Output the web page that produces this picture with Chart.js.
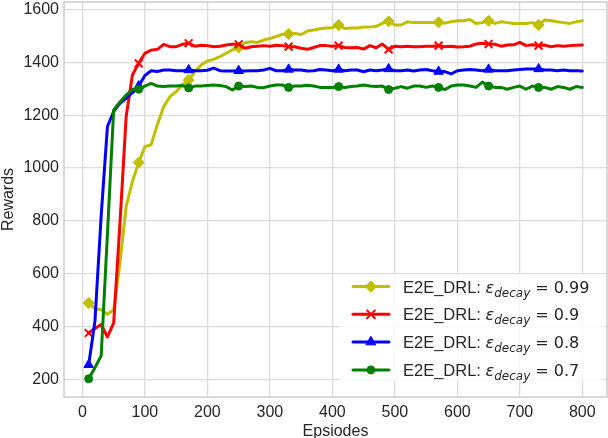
<!DOCTYPE html>
<html>
<head>
<meta charset="utf-8">
<script src="https://cdn.jsdelivr.net/npm/chart.js@4.4.0/dist/chart.umd.min.js"></script>
<style>
  html, body { margin: 0; padding: 0; background: #fff; }
</style>
</head>
<body>
<canvas id="chart" width="608" height="438"></canvas>
<script>
var episodes = [10, 20, 30, 40, 50, 60, 70, 80, 90, 100, 110, 120, 130, 140, 150, 160, 170, 180, 190, 200,
  210, 220, 230, 240, 250, 260, 270, 280, 290, 300, 310, 320, 330, 340, 350, 360, 370, 380, 390, 400,
  410, 420, 430, 440, 450, 460, 470, 480, 490, 500, 510, 520, 530, 540, 550, 560, 570, 580, 590, 600,
  610, 620, 630, 640, 650, 660, 670, 680, 690, 700, 710, 720, 730, 740, 750, 760, 770, 780, 790, 800];

// eps_decay = 0.99
var rewards099 = [490, 468, 464, 447, 464, 640, 855, 949, 1021, 1081, 1088, 1165, 1232, 1270, 1289, 1314, 1333, 1365, 1390, 1405,
  1411, 1421, 1434, 1447, 1456, 1474, 1478, 1475, 1484, 1490, 1497, 1506, 1507, 1509, 1505, 1518, 1522, 1527, 1530, 1531,
  1541, 1528, 1530, 1530, 1533, 1533, 1536, 1547, 1555, 1541, 1541, 1553, 1550, 1550, 1550, 1550, 1551, 1548, 1553, 1557,
  1557, 1562, 1547, 1550, 1557, 1547, 1553, 1550, 1547, 1547, 1547, 1550, 1541, 1560, 1557, 1553, 1550, 1547, 1553, 1557];
// eps_decay = 0.9
var rewards09 = [376, 393, 408, 361, 414, 790, 1195, 1352, 1396, 1434, 1446, 1449, 1468, 1459, 1459, 1468, 1472, 1461, 1464, 1463,
  1459, 1461, 1465, 1468, 1468, 1453, 1459, 1461, 1463, 1461, 1464, 1463, 1459, 1459, 1453, 1449, 1456, 1463, 1463, 1461,
  1463, 1456, 1455, 1456, 1450, 1463, 1455, 1469, 1449, 1461, 1459, 1461, 1459, 1459, 1461, 1461, 1463, 1459, 1461, 1458,
  1459, 1461, 1469, 1472, 1469, 1468, 1461, 1465, 1466, 1475, 1463, 1466, 1463, 1465, 1459, 1463, 1461, 1463, 1464, 1465];
// eps_decay = 0.8
var rewards08 = [256, 420, 820, 1157, 1214, 1245, 1264, 1285, 1310, 1350, 1368, 1365, 1371, 1371, 1368, 1368, 1371, 1368, 1368, 1370,
  1378, 1368, 1367, 1367, 1368, 1367, 1368, 1368, 1371, 1377, 1368, 1368, 1373, 1371, 1371, 1367, 1368, 1373, 1371, 1368,
  1373, 1368, 1371, 1371, 1364, 1371, 1368, 1371, 1375, 1368, 1368, 1371, 1367, 1371, 1373, 1368, 1365, 1365, 1356, 1368,
  1371, 1373, 1371, 1368, 1373, 1368, 1368, 1368, 1371, 1373, 1375, 1375, 1375, 1371, 1371, 1368, 1371, 1368, 1368, 1367];
// eps_decay = 0.7
var rewards07 = [203, 245, 290, 750, 1220, 1250, 1276, 1298, 1298, 1310, 1320, 1310, 1308, 1310, 1310, 1312, 1303, 1310, 1310, 1312,
  1314, 1312, 1308, 1295, 1310, 1308, 1310, 1305, 1304, 1310, 1314, 1314, 1305, 1310, 1310, 1313, 1310, 1305, 1305, 1305,
  1308, 1305, 1308, 1310, 1314, 1310, 1308, 1310, 1297, 1302, 1308, 1302, 1310, 1310, 1305, 1310, 1305, 1297, 1310, 1314,
  1314, 1310, 1305, 1325, 1310, 1305, 1305, 1298, 1305, 1310, 1298, 1310, 1305, 1305, 1298, 1308, 1305, 1298, 1308, 1305];

var xTicks = [0, 100, 200, 300, 400, 500, 600, 700, 800];
var yTicks = [200, 400, 600, 800, 1000, 1200, 1400, 1600];
var legendValues = ['0.99', '0.9', '0.8', '0.7'];

var series = [
  { data: rewards099, color: '#bfbf00', style: 'rectRot', radius: 5.5, bw: 1 },
  { data: rewards09, color: '#ff0000', style: 'crossRot', radius: 5.5, bw: 2 },
  { data: rewards08, color: '#0000ff', style: 'triangle', radius: 5.5, bw: 1 },
  { data: rewards07, color: '#008000', style: 'circle', radius: 4, bw: 1 }
];

function toPoints(vals) {
  return episodes.map(function (e, i) { return { x: e, y: vals[i] }; });
}

var datasets = series.map(function (s, k) {
  return {
    data: toPoints(s.data),
    borderColor: s.color,
    backgroundColor: s.color,
    borderWidth: 3,
    borderJoinStyle: 'round',
    borderCapStyle: 'round',
    tension: 0,
    pointStyle: s.style,
    pointRadius: function (c) { return c.dataIndex % 8 === 0 ? s.radius : 0; },
    pointHoverRadius: 0,
    pointBackgroundColor: s.color,
    pointBorderColor: s.color,
    pointBorderWidth: s.bw,
    order: 3 - k
  };
});

function noPad(axis) {
  axis.paddingTop = 0;
  axis.paddingBottom = 0;
  axis.paddingLeft = 0;
  axis.paddingRight = 0;
}

var frame = {
  id: 'frame',
  afterDatasetsDraw: function (chart) {
    var a = chart.chartArea, ctx = chart.ctx;
    ctx.save();
    ctx.strokeStyle = '#cccccc';
    ctx.lineWidth = 1.5;
    ctx.strokeRect(a.left, a.top, a.right - a.left, a.bottom - a.top);

    // legend
    var bx = a.right - 268, by = a.bottom - 123;
    ctx.fillStyle = 'rgba(255,255,255,0.8)';
    ctx.beginPath();
    ctx.roundRect(bx, by, 265, 107, 3);
    ctx.fill();
    for (var i = 0; i < series.length; i++) {
      var s = series[i];
      var cy = a.bottom - 110.5 + i * 27.8;
      ctx.strokeStyle = s.color;
      ctx.lineWidth = 3;
      ctx.lineCap = 'round';
      ctx.beginPath();
      ctx.moveTo(a.right - 254, cy);
      ctx.lineTo(a.right - 218, cy);
      ctx.stroke();
      ctx.fillStyle = s.color;
      ctx.lineWidth = s.bw;
      Chart.helpers.drawPoint(ctx, { pointStyle: s.style, radius: s.radius, rotation: 0, borderWidth: s.bw }, a.right - 236, cy);

      var tx = a.right - 204, ty = cy + 6;
      ctx.fillStyle = '#262626';
      ctx.textBaseline = 'alphabetic';
      ctx.textAlign = 'left';
      ctx.font = '16.5px "Liberation Sans", Arial, sans-serif';
      ctx.fillText('E2E_DRL: ', tx, ty);
      tx += ctx.measureText('E2E_DRL: ').width;
      ctx.font = 'italic 16px "DejaVu Sans"';
      ctx.fillText('\u03b5', tx, ty);
      tx += ctx.measureText('\u03b5').width;
      ctx.font = 'italic 12px "DejaVu Sans"';
      ctx.fillText('decay', tx, ty + 4);
      tx += ctx.measureText('decay').width;
      ctx.font = '16px "DejaVu Sans"';
      ctx.fillText(' = ' + legendValues[i], tx, ty);
    }
    ctx.restore();
  }
};

var ctx = document.getElementById('chart').getContext('2d');
var chart = new Chart(ctx, {
  type: 'line',
  data: { datasets: datasets },
  options: {
    responsive: false,
    animation: false,
    events: [],
    layout: { autoPadding: false, padding: { top: 2, right: 1, left: 0, bottom: 0 } },
    plugins: { legend: { display: false }, tooltip: { enabled: false } },
    scales: {
      x: {
        type: 'linear',
        min: -29.5,
        max: 839.5,
        afterBuildTicks: function (axis) { axis.ticks = xTicks.map(function (v) { return { value: v }; }); },
        afterFit: function (axis) { axis.height = 41; noPad(axis); },
        grid: { color: '#dcdcdc', lineWidth: 1.3, drawTicks: false },
        border: { display: false },
        ticks: {
          color: '#262626', padding: 6, maxRotation: 0,
          font: { family: '"Liberation Sans", Arial, sans-serif', size: 16 },
          callback: function (v) { return String(v); }
        },
        title: {
          display: true, text: 'Epsiodes', color: '#262626', padding: { top: 0, bottom: -2 },
          font: { family: '"Liberation Sans", Arial, sans-serif', size: 16, lineHeight: 1.0 }
        }
      },
      y: {
        type: 'linear',
        min: 134,
        max: 1628,
        afterBuildTicks: function (axis) { axis.ticks = yTicks.map(function (v) { return { value: v }; }); },
        afterFit: function (axis) { axis.width = 64; noPad(axis); },
        grid: { color: '#dcdcdc', lineWidth: 1.3, drawTicks: false },
        border: { display: false },
        ticks: {
          color: '#262626', padding: 5,
          font: { family: '"Liberation Sans", Arial, sans-serif', size: 16 },
          callback: function (v) { return String(v); }
        },
        title: {
          display: true, text: 'Rewards', color: '#262626', padding: { top: 1, bottom: 0 },
          font: { family: '"Liberation Sans", Arial, sans-serif', size: 16, lineHeight: 1.0 }
        }
      }
    }
  },
  plugins: [frame]
});
</script>
</body>
</html>
